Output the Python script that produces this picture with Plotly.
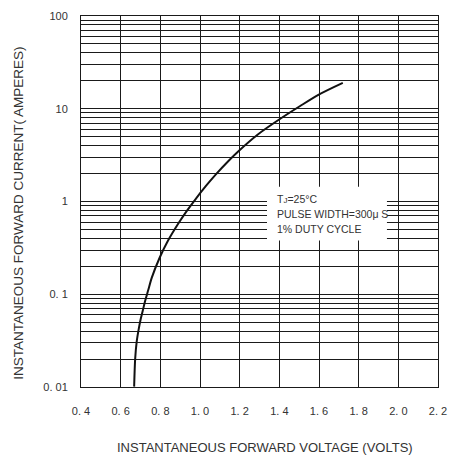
import plotly.graph_objects as go

# Curve data (forward voltage in volts, forward current in amperes)
voltage = [0.668, 0.673, 0.681, 0.691, 0.701, 0.711, 0.723, 0.739, 0.757, 0.797,
           0.835, 0.889, 0.930, 0.976, 1.030, 1.080, 1.141, 1.191, 1.290, 1.399,
           1.505, 1.599, 1.720]
current = [0.0101, 0.020, 0.031, 0.042, 0.054, 0.066, 0.084, 0.111, 0.151, 0.249,
           0.366, 0.571, 0.773, 1.05, 1.47, 1.96, 2.70, 3.44, 5.25, 7.65,
           10.7, 14.2, 19.0]

x_tickvals = [0.4, 0.6, 0.8, 1.0, 1.2, 1.4, 1.6, 1.8, 2.0, 2.2]
x_ticktext = ["0. 4", "0. 6", "0. 8", "1. 0", "1. 2", "1. 4", "1. 6", "1. 8", "2. 0", "2. 2"]

decades = [0.01, 0.1, 1, 10]
decade_labels = {0.01: "0. 01", 0.1: "0. 1", 1: "1", 10: "10", 100: "100"}
y_tickvals = []
y_ticktext = []
for d in decades:
    for m in range(1, 10):
        v = round(d * m, 6)
        y_tickvals.append(v)
        y_ticktext.append(decade_labels.get(v, ""))
y_tickvals.append(100)
y_ticktext.append("100")

note_lines = ["T<span style='font-size:8px'>J</span>=25°C", "PULSE WIDTH=300μ S", "1% DUTY CYCLE"]

FONT = "Liberation Sans, Arial, sans-serif"
TXT = "#333333"
GRID = "#1a1a1a"

fig = go.Figure()
fig.add_trace(go.Scatter(x=voltage, y=current, mode="lines",
                         line=dict(color="#111111", width=2, shape="spline", smoothing=0.8),
                         hoverinfo="skip", showlegend=False))

fig.update_layout(
    width=457, height=459, autosize=False,
    margin=dict(l=81, r=13, t=10, b=72),
    paper_bgcolor="white", plot_bgcolor="white",
    font=dict(family=FONT, size=11, color=TXT),
    showlegend=False,
    xaxis=dict(range=[0.4, 2.2], tickmode="array", tickvals=x_tickvals, ticktext=x_ticktext,
               showgrid=True, gridcolor=GRID, gridwidth=1, zeroline=False,
               showline=True, linecolor=GRID, linewidth=1, mirror=True,
               ticks="", ticklabelstandoff=14, tickfont=dict(size=11, color=TXT)),
    yaxis=dict(type="log", range=[-2, 2], tickmode="array", tickvals=y_tickvals, ticktext=y_ticktext,
               showgrid=True, gridcolor=GRID, gridwidth=1, zeroline=False,
               showline=True, linecolor=GRID, linewidth=1, mirror=True,
               ticks="", ticklabelstandoff=10, tickfont=dict(size=11, color=TXT)),
)

# white box behind the note
fig.add_shape(type="rect", xref="paper", yref="paper", x0=0.521, x1=0.857, y0=0.395, y1=0.540,
              fillcolor="white", line=dict(width=0), layer="above")

note_y = [0.507, 0.467, 0.427]
for t, yy in zip(note_lines, note_y):
    fig.add_annotation(text=t, xref="paper", yref="paper", x=0.544, y=yy,
                       xanchor="left", yanchor="middle", showarrow=False,
                       font=dict(family=FONT, size=10.5, color=TXT))

fig.add_annotation(text="INSTANTANEOUS FORWARD VOLTAGE (VOLTS)", xref="paper", yref="paper",
                   x=(268 - 81) / 363, y=-(448 - 387) / 377, xanchor="center", yanchor="middle",
                   showarrow=False, font=dict(family=FONT, size=13, color=TXT))
fig.add_annotation(text="INSTANTANEOUS FORWARD CURRENT( AMPERES)", xref="paper", yref="paper",
                   x=-(81 - 18) / 363, y=(387 - 211) / 377, xanchor="center", yanchor="middle",
                   textangle=-90, showarrow=False, font=dict(family=FONT, size=13.5, color=TXT))

fig.write_html("out.html", config={"displayModeBar": False},
               post_script="document.body.style.margin='0';document.body.style.padding='0';")
